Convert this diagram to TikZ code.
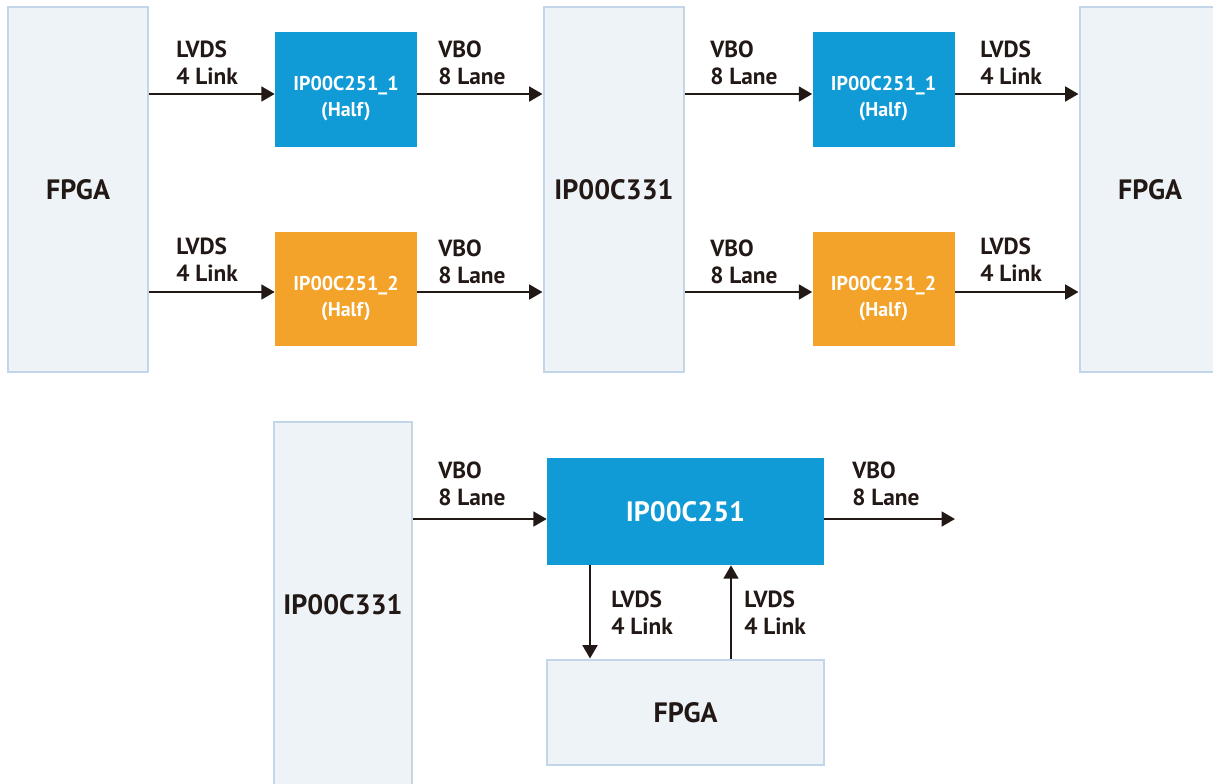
\documentclass[tikz,border=0pt]{standalone}
\usepackage{fontspec}
\setmainfont{PT Sans}
\usetikzlibrary{calc,arrows.meta}
\definecolor{chipblue}{RGB}{16,154,214}
\definecolor{chiporange}{RGB}{243,162,42}
\definecolor{hostfill}{RGB}{238,243,247}
\definecolor{hostedge}{RGB}{195,213,232}
\definecolor{wire}{RGB}{34,24,21}

\begin{document}
\begin{tikzpicture}[x=0.75pt,y=-0.75pt]
    \tikzstyle{every node}=[inner sep=0, font=\bfseries]
    \tikzstyle{host}=[draw=hostedge, fill=hostfill, line width=2.2pt, text=wire, font=\bfseries\fontsize{21}{24}\selectfont]
    \tikzstyle{chip}=[minimum width=106.5pt, minimum height=86pt]
    \tikzstyle{chiptxt}=[text=white, align=center, font=\bfseries\fontsize{15}{19.5}\selectfont]
    \tikzstyle{lbl}=[anchor=west, align=left, text=wire, font=\bfseries\fontsize{17.5}{20.25}\selectfont]
    \tikzstyle{link}=[draw=wire, line width=1.9pt, -{Triangle[length=10pt, width=11pt]}]
    \useasboundingbox (0,0) rectangle (1213,783);
    \clip (0,0) rectangle (1213,783);
    % Top chain: FPGA -> IP00C251 halves -> IP00C331 -> halves -> FPGA
    \node[host, minimum width=105pt, minimum height=273.75pt] (fpgaL) at (78,189.5) {FPGA};
    \node[host, minimum width=105pt, minimum height=273.75pt] (hubT) at (614,189.5) {IP00C331};
    \node[host, minimum width=105pt, minimum height=273.75pt] (fpgaR) at (1150,189.5) {FPGA};
    \node[chip, fill=chipblue] (halfA1) at (346,89.5) {};
    \node[chip, fill=chiporange] (halfB1) at (346,289) {};
    \node[chip, fill=chipblue] (halfA2) at (883.5,89.5) {};
    \node[chip, fill=chiporange] (halfB2) at (883.5,289) {};
    \node[chiptxt] (nameA1) at ($(halfA1)+(0,9.5)$) {IP00C251\_1\\(Half)};
    \node[chiptxt] (nameB1) at ($(halfB1)+(0,9.5)$) {IP00C251\_2\\(Half)};
    \node[chiptxt] (nameA2) at ($(halfA2)+(0,9.5)$) {IP00C251\_1\\(Half)};
    \node[chiptxt] (nameB2) at ($(halfB2)+(0,9.5)$) {IP00C251\_2\\(Half)};
    \coordinate (rowA) at (0,94);
    \coordinate (rowB) at (0,292);
    \draw[link] (fpgaL.east |- rowA) -- (halfA1.west |- rowA);
    \draw[link] (halfA1.east |- rowA) -- (hubT.west |- rowA);
    \draw[link] (hubT.east |- rowA) -- (halfA2.west |- rowA);
    \draw[link] (halfA2.east |- rowA) -- (fpgaR.west |- rowA);
    \draw[link] (fpgaL.east |- rowB) -- (halfB1.west |- rowB);
    \draw[link] (halfB1.east |- rowB) -- (hubT.west |- rowB);
    \draw[link] (hubT.east |- rowB) -- (halfB2.west |- rowB);
    \draw[link] (halfB2.east |- rowB) -- (fpgaR.west |- rowB);
    \node[lbl] (lvdsA1) at (176,62.5) {LVDS\\4 Link};
    \node[lbl] (vboA1) at (438,62.5) {VBO\\8 Lane};
    \node[lbl] (vboA2) at (710,62.5) {VBO\\8 Lane};
    \node[lbl] (lvdsA2) at (980,62.5) {LVDS\\4 Link};
    \node[lbl] (lvdsB1) at (176,259.5) {LVDS\\4 Link};
    \node[lbl] (vboB1) at (438,262) {VBO\\8 Lane};
    \node[lbl] (vboB2) at (710,262) {VBO\\8 Lane};
    \node[lbl] (lvdsB2) at (980,259.5) {LVDS\\4 Link};
    % Bottom: IP00C331 -> IP00C251 with FPGA loop
    \node[host, minimum width=103.5pt, minimum height=274.5pt] (hubB) at (343,605) {IP00C331};
    \node[chiptxt, fill=chipblue, font=\bfseries\fontsize{21}{24}\selectfont, minimum width=207.75pt, minimum height=80.25pt] (core) at (685.5,511.5) {IP00C251};
    \node[host, minimum width=207.75pt, minimum height=78.75pt] (fpgaB) at (685.5,712.5) {FPGA};
    \coordinate (rowC) at (0,519);
    \coordinate (outC) at (955,519);
    \coordinate (colD) at (590,0);
    \coordinate (colU) at (731,0);
    \draw[link] (hubB.east |- rowC) -- (core.west |- rowC);
    \draw[link] (core.east |- rowC) -- (outC);
    \draw[link] (core.south -| colD) -- (fpgaB.north -| colD);
    \draw[link] (fpgaB.north -| colU) -- (core.south -| colU);
    \node[lbl] (vboC1) at (438,484) {VBO\\8 Lane};
    \node[lbl] (vboC2) at (852,484) {VBO\\8 Lane};
    \node[lbl] (lvdsD) at (611,612.5) {LVDS\\4 Link};
    \node[lbl] (lvdsU) at (744,612.5) {LVDS\\4 Link};
\end{tikzpicture}
\end{document}
